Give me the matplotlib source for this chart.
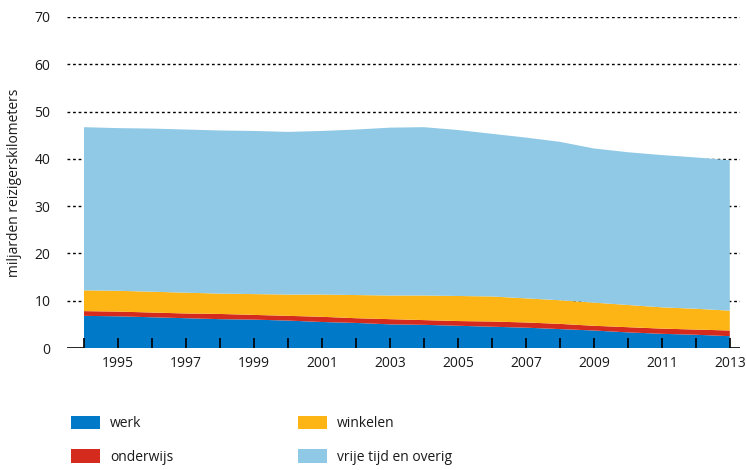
import matplotlib
matplotlib.use("Agg")
import matplotlib.pyplot as plt
import numpy as np

years = list(range(1994, 2014))
werk = [6.8, 6.7, 6.5, 6.3, 6.1, 6.0, 5.8, 5.5, 5.3, 5.0, 4.9, 4.7, 4.5, 4.3, 4.0, 3.7, 3.3, 3.0, 2.8, 2.5]
onderwijs = [1.0, 1.0, 1.0, 1.0, 1.1, 1.0, 1.0, 1.1, 1.0, 1.1, 1.0, 1.0, 1.1, 1.1, 1.1, 1.0, 1.1, 1.1, 1.1, 1.2]
winkelen = [4.4, 4.4, 4.4, 4.4, 4.3, 4.4, 4.5, 4.7, 4.9, 5.0, 5.2, 5.3, 5.3, 5.1, 5.0, 4.9, 4.7, 4.5, 4.4, 4.2]
vrije_tijd = [34.5, 34.4, 34.5, 34.5, 34.5, 34.5, 34.4, 34.6, 35.0, 35.5, 35.6, 35.1, 34.4, 34.0, 33.5, 32.6, 32.3, 32.2, 32.0, 31.8]
labels = ["werk", "onderwijs", "winkelen", "vrije tijd en overig"]
colors = ["#0079C8", "#D52B1E", "#FDB515", "#8FC9E6"]
yticks = [0, 10, 20, 30, 40, 50, 60, 70]
xlabel_years = list(range(1995, 2014, 2))

plt.rcParams['font.family'] = ['Open Sans', 'DejaVu Sans']
fig = plt.figure(figsize=(7.46, 4.70), dpi=100)
ax = fig.add_axes([67/746, 1 - 348/470, (740 - 67)/746, 331/470])

polys = ax.stackplot(years, werk, onderwijs, winkelen, vrije_tijd,
                     colors=colors, labels=labels, linewidth=0, zorder=2)

ax.set_xlim(1993.5, 2013.3)
ax.set_ylim(0, 70)

for v in yticks[1:]:
    ax.axhline(v, color="black", linestyle=(0, (2, 2)), linewidth=1.0, zorder=1)
ax.axhline(0, color="black", linewidth=1.2, zorder=1)

for s in ax.spines.values():
    s.set_visible(False)

ax.set_yticks(yticks)
ax.set_yticklabels([str(v) for v in yticks], fontsize=10, color="#1a1a1a")
ax.tick_params(axis="y", length=0, pad=12)

ax.set_xticks(years)
ax.set_xticklabels([str(y) if y in xlabel_years else "" for y in years], fontsize=10, color="#1a1a1a")
ax.tick_params(axis="x", direction="in", length=7, width=1.2, color="black", pad=6)
for t in ax.xaxis.get_ticklines():
    t.set_zorder(5)
ax.set_axisbelow(False)

ax.set_ylabel("miljarden reizigerskilometers", fontsize=10, color="#1a1a1a", labelpad=9)

fig.legend(handles=polys, labels=labels, ncol=2, loc="upper left",
           bbox_to_anchor=(71/746, 1 - 416/470), frameon=False, fontsize=10,
           handlelength=2.1, handleheight=1.1, handletextpad=0.7,
           labelspacing=1.3, columnspacing=9.0, borderpad=0, borderaxespad=0,
           labelcolor="#1a1a1a")

fig.savefig("out.png", dpi=100)
